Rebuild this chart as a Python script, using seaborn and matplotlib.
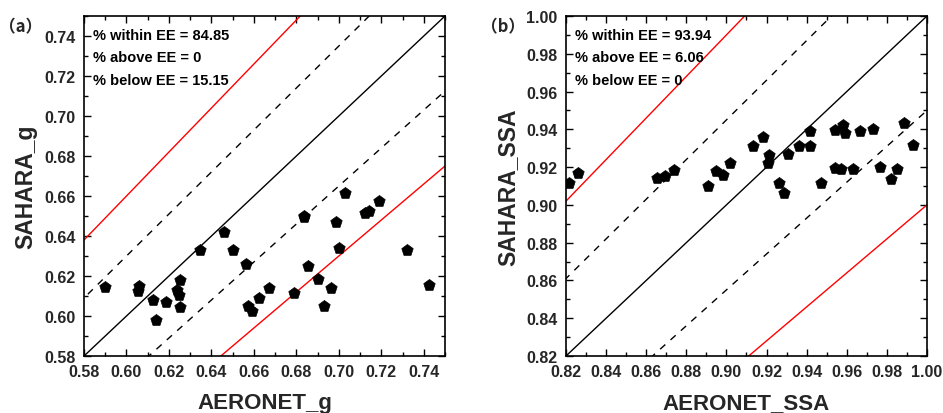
import numpy as np
import pandas as pd
import matplotlib
matplotlib.use("Agg")
import matplotlib.pyplot as plt
from matplotlib.ticker import MultipleLocator
import seaborn as sns

# Asymmetry parameter g: AERONET vs SAHARA
aeronet_g = [0.5899, 0.6060, 0.6053, 0.6123, 0.6139, 0.6186, 0.6252, 0.6239, 0.6249,
             0.6252, 0.6348, 0.6459, 0.6500, 0.6563, 0.6571, 0.6593, 0.6626, 0.6673,
             0.6790, 0.6834, 0.6838, 0.6855, 0.6900, 0.6930, 0.6962, 0.6987, 0.6999,
             0.7030, 0.7125, 0.7143, 0.7189, 0.7320, 0.7426]
sahara_g = [0.6147, 0.6152, 0.6123, 0.6078, 0.5982, 0.6072, 0.6182, 0.6130, 0.6103,
            0.6043, 0.6328, 0.6420, 0.6328, 0.6262, 0.6048, 0.6027, 0.6092, 0.6140,
            0.6115, 0.6495, 0.6500, 0.6250, 0.6187, 0.6048, 0.6142, 0.6470, 0.6338,
            0.6617, 0.6513, 0.6525, 0.6575, 0.6328, 0.6153]

# Single scattering albedo: AERONET vs SAHARA
aeronet_ssa = [0.8215, 0.8258, 0.8652, 0.8694, 0.8738, 0.8908, 0.8948, 0.8983, 0.9016,
               0.9131, 0.9184, 0.9214, 0.9207, 0.9260, 0.9289, 0.9305, 0.9360, 0.9417,
               0.9418, 0.9470, 0.9540, 0.9541, 0.9571, 0.9583, 0.9593, 0.9630, 0.9664,
               0.9732, 0.9764, 0.9819, 0.9850, 0.9884, 0.9929]
sahara_ssa = [0.9117, 0.9167, 0.9141, 0.9151, 0.9183, 0.9100, 0.9178, 0.9158, 0.9220,
              0.9310, 0.9359, 0.9262, 0.9222, 0.9116, 0.9063, 0.9269, 0.9310, 0.9391,
              0.9310, 0.9117, 0.9398, 0.9197, 0.9188, 0.9423, 0.9382, 0.9192, 0.9393,
              0.9404, 0.9199, 0.9137, 0.9190, 0.9434, 0.9315]

panel_tags = ["（a）", "（b）"]
x_labels = ["AERONET_g", "AERONET_SSA"]
y_labels = ["SAHARA_g", "SAHARA_SSA"]
stats_text = [
    ["% within EE = 84.85", "% above EE = 0", "% below EE = 15.15"],
    ["% within EE = 93.94", "% above EE = 6.06", "% below EE = 0"],
]
limits = [(0.58, 0.75), (0.82, 1.00)]
major_ticks = [np.arange(0.58, 0.7401, 0.02), np.arange(0.82, 1.0001, 0.02)]

sns.set_theme(style="ticks")
LATIN = ["Liberation Sans", "DejaVu Sans"]
plt.rcParams["font.family"] = LATIN
plt.rcParams["font.weight"] = "bold"
plt.rcParams["axes.labelweight"] = "bold"

fig = plt.figure(figsize=(9.43, 4.14), dpi=100)
ax_a = fig.add_axes([0.0891, 0.1377, 0.3828, 0.8212])
ax_b = fig.add_axes([0.6002, 0.1377, 0.3828, 0.8212])

frames = [
    pd.DataFrame({"obs": aeronet_g, "model": sahara_g}),
    pd.DataFrame({"obs": aeronet_ssa, "model": sahara_ssa}),
]

for i, (ax, df) in enumerate(zip([ax_a, ax_b], frames)):
    lo, hi = limits[i]
    xs = np.linspace(lo - 0.05, hi + 0.05, 50)
    # 1:1 line, +/-5% (dashed) and +/-10% expected-error envelope (red)
    sns.lineplot(x=xs, y=xs, ax=ax, color="black", lw=1.0)
    sns.lineplot(x=xs, y=xs * 1.05, ax=ax, color="black", lw=1.0,
                 linestyle=(0, (5, 5)))
    sns.lineplot(x=xs, y=xs * 0.95, ax=ax, color="black", lw=1.0,
                 linestyle=(0, (5, 5)))
    sns.lineplot(x=xs, y=xs * 1.10, ax=ax, color="red", lw=1.0)
    sns.lineplot(x=xs, y=xs * 0.90, ax=ax, color="red", lw=1.0)

    sns.scatterplot(data=df, x="obs", y="model", ax=ax, marker="p", s=75,
                    color="black", edgecolor="black", linewidth=0.5, zorder=5)

    ax.set_xlim(lo, hi)
    ax.set_ylim(lo, hi)
    tick_labels = [f"{t:.2f}" for t in major_ticks[i]]
    ax.set_xticks(major_ticks[i], tick_labels, fontsize=11.5, fontweight="bold",
                  family=LATIN)
    ax.set_yticks(major_ticks[i], tick_labels, fontsize=11.5, fontweight="bold",
                  family=LATIN)
    ax.xaxis.set_minor_locator(MultipleLocator(0.01))
    ax.yaxis.set_minor_locator(MultipleLocator(0.01))
    ax.tick_params(which="both", direction="in", top=True, right=True,
                   width=1.0, color="black")
    ax.tick_params(which="major", length=5)
    ax.tick_params(axis="x", which="major", pad=6)
    ax.tick_params(axis="y", which="major", pad=6)
    ax.tick_params(which="minor", length=3)
    for sp in ax.spines.values():
        sp.set_visible(True)
        sp.set_linewidth(1.2)
        sp.set_color("black")

    ax.set_xlabel(x_labels[i], fontsize=16, fontweight="bold", labelpad=9,
                  family=LATIN)
    ax.set_ylabel(y_labels[i], fontsize=16.5, fontweight="bold", labelpad=5,
                  family=LATIN)

    for k, line in enumerate(stats_text[i]):
        ax.text(0.025, 0.945 - k * 0.066, line, transform=ax.transAxes,
                fontsize=10.5, fontweight="bold", va="center", ha="left",
                color="black", family=LATIN)

    ax.text(-0.235, 0.97, panel_tags[i], transform=ax.transAxes, fontsize=12,
            fontweight="bold", va="center", ha="left",
            family=["Noto Sans CJK SC", "Liberation Sans"])

fig.savefig("out.png", dpi=100)
